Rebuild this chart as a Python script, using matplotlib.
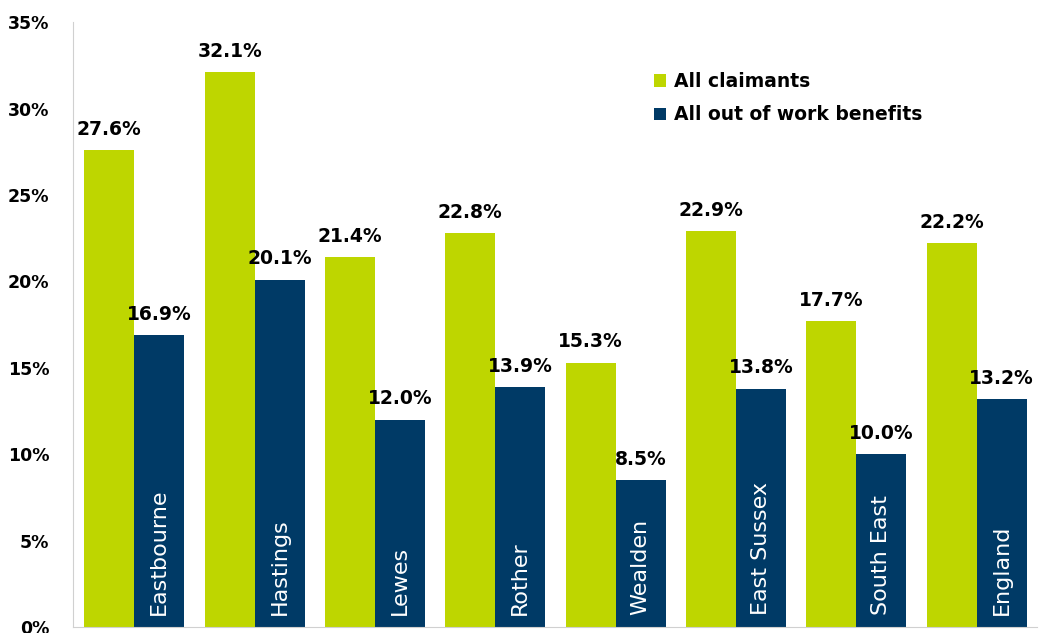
import numpy as np
import matplotlib
matplotlib.use('Agg')
import matplotlib.pyplot as plt

# Data
areas = ['Eastbourne', 'Hastings', 'Lewes', 'Rother', 'Wealden',
         'East Sussex', 'South East', 'England']
all_claimants = [27.6, 32.1, 21.4, 22.8, 15.3, 22.9, 17.7, 22.2]
out_of_work = [16.9, 20.1, 12.0, 13.9, 8.5, 13.8, 10.0, 13.2]

green = '#bed600'
navy = '#003a66'

plt.rcParams['font.family'] = 'DejaVu Sans'

fig = plt.figure(figsize=(10.42, 6.33), dpi=100)
ax = fig.add_axes([0.070, 0.0095, 0.925, 0.9555])

x = np.arange(len(areas))
w = 0.415
b1 = ax.bar(x - w / 2, all_claimants, w, color=green, label='All claimants')
b2 = ax.bar(x + w / 2, out_of_work, w, color=navy, label='All out of work benefits')

# value labels
for bars, vals in [(b1, all_claimants), (b2, out_of_work)]:
    for bar, v in zip(bars, vals):
        ax.text(bar.get_x() + bar.get_width() / 2, v + 0.65, f'{v:.1f}%',
                ha='center', va='bottom', fontsize=13.5, fontweight='bold')

# area names inside navy bars
for xi, name in zip(x, areas):
    ax.text(xi + w / 2, 0.7, name, rotation=90, ha='center', va='bottom',
            color='white', fontsize=16)

ax.set_xlim(-0.51, 7.5)
ax.set_ylim(0, 35)
ax.set_yticks(np.arange(0, 36, 5))
ax.set_yticklabels([f'{t}%' for t in range(0, 36, 5)], fontsize=12.5, fontweight='bold')
ax.set_xticks([])
ax.tick_params(axis='y', length=0, pad=17)

for s in ['top', 'right']:
    ax.spines[s].set_visible(False)
for s in ['left', 'bottom']:
    ax.spines[s].set_color('#d0d0d0')

ax.legend(loc='upper left', bbox_to_anchor=(0.585, 0.945), frameon=False,
          prop={'size': 13.5, 'weight': 'bold'}, handlelength=0.65, handleheight=0.65,
          handletextpad=0.45, labelspacing=0.75)

plt.savefig('out.png', dpi=100)
